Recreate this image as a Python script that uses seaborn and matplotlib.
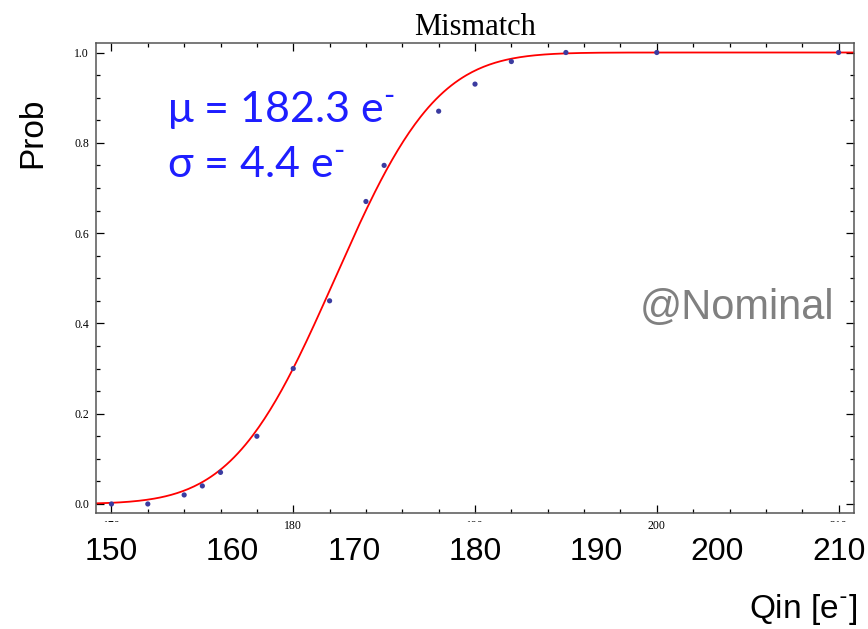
import math
import numpy as np
import pandas as pd
import matplotlib
matplotlib.use("Agg")
import matplotlib.pyplot as plt
import matplotlib.transforms as mtransforms
from matplotlib.ticker import MultipleLocator
import seaborn as sns

# measured points
qin = [170, 172, 174, 175, 176, 178, 180, 182, 184, 185, 188, 190, 192, 195, 200, 210]
prob = [0.0, 0.0, 0.02, 0.04, 0.07, 0.15, 0.30, 0.45, 0.67, 0.75, 0.87, 0.93, 0.98, 1.0, 1.0, 1.0]

# fit parameters shown on the slide
MU = 182.3
SIGMA = 4.4

# the big (overlaid) tick labels of the slide
big_ticks = [150, 160, 170, 180, 190, 200, 210]

# error-function fit drawn from the stated parameters
fit_x = np.linspace(169.1, 210.9, 400)
fit_y = [0.5 * (1 + math.erf((v - MU) / (SIGMA * math.sqrt(2)))) for v in fit_x]

df = pd.DataFrame({"Qin": qin, "Prob": prob})
fit = pd.DataFrame({"Qin": fit_x, "Prob": fit_y})

sns.set_theme(style="ticks")
plt.rcParams["font.family"] = ["Liberation Serif", "DejaVu Serif"]
plt.rcParams["text.color"] = "black"
plt.rcParams["axes.labelcolor"] = "black"
plt.rcParams["mathtext.fontset"] = "custom"
plt.rcParams["mathtext.rm"] = "Lato"

fig = plt.figure(figsize=(8.68, 6.29), dpi=100)
ax = fig.add_axes([0.1106, 0.1844, 0.8733, 0.7472])

sns.lineplot(data=fit, x="Qin", y="Prob", color="red", lw=1.3, ax=ax)
sns.scatterplot(data=df, x="Qin", y="Prob", color="#3b3ba0", s=14,
                edgecolor="none", ax=ax, zorder=3)

ax.set_xlim(169.15, 210.85)
ax.set_ylim(-0.02, 1.021)
ax.xaxis.set_major_locator(MultipleLocator(10))
ax.xaxis.set_minor_locator(MultipleLocator(2))
ax.yaxis.set_major_locator(MultipleLocator(0.2))
ax.yaxis.set_minor_locator(MultipleLocator(0.05))
ax.yaxis.set_major_formatter(matplotlib.ticker.FormatStrFormatter("%.1f"))
ax.tick_params(which="both", direction="in", top=True, right=True,
               labelsize=8.5, colors="black", width=0.9, pad=5)
ax.tick_params(which="major", length=6)
ax.tick_params(which="minor", length=3)
for s in ax.spines.values():
    s.set_color("#555555")
    s.set_linewidth(1.1)
ax.set_xlabel("")
ax.set_ylabel("")
ax.set_title("Mismatch", fontsize=22, pad=6, color="black")

# overlaid slide labels
sans = ["Liberation Sans", "DejaVu Sans"]
trans = mtransforms.blended_transform_factory(ax.transData, fig.transFigure)
for b in big_ticks:
    ax.text(170 + (b - 150) * 2 / 3, 0.1224, str(b), transform=trans,
            ha="center", va="center", fontsize=23, family=sans, clip_on=False,
            color="black", zorder=1,
            bbox=dict(facecolor="white", edgecolor="none", pad=11))

ax.text(-0.084, 0.808, "Prob", transform=ax.transAxes, rotation=90,
        ha="center", va="center", fontsize=24, family=sans, clip_on=False)
ax.text(1.004, -0.206, "Qin [e$^{\\text{-}}$]", transform=ax.transAxes,
        ha="right", va="center", fontsize=24, family=sans, clip_on=False)

blue = "#1e1eff"
ax.text(0.0937, 0.832, "\u03bc = 182.3 e$^{\\text{-}}$", transform=ax.transAxes,
        ha="left", va="baseline", fontsize=31, color=blue, family="Lato")
ax.text(0.0937, 0.715, "\u03c3 = 4.4 e$^{\\text{-}}$", transform=ax.transAxes,
        ha="left", va="baseline", fontsize=31, color=blue, family="Lato")

ax.text(0.7177, 0.436, "@Nominal", transform=ax.transAxes,
        ha="left", va="center", fontsize=30, color="#808080", family=sans)

fig.savefig("out.png", dpi=100)
